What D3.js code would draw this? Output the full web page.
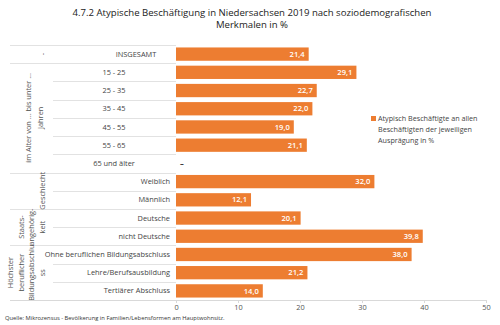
<!DOCTYPE html>
<html>
<head>
<meta charset="utf-8">
<script src="https://cdn.jsdelivr.net/npm/d3@7"></script>
<style>
body { margin: 0; background: #fff; }
text { font-family: "Open Sans", "Noto Sans", sans-serif; }
</style>
</head>
<body>
<div id="chart"></div>
<script>
// Kategorien und Werte (Anteil atypisch Beschäftigter in %)
var categories = ["INSGESAMT", "15 - 25", "25 - 35", "35 - 45", "45 - 55", "55 - 65", "65 und älter",
    "Weiblich", "Männlich", "Deutsche", "nicht Deutsche",
    "Ohne beruflichen Bildungsabschluss", "Lehre/Berufsausbildung", "Tertiärer Abschluss"];
var values = [21.4, 29.1, 22.7, 22.0, 19.0, 21.1, null, 32.0, 12.1, 20.1, 39.8, 38.0, 21.2, 14.0];
var groupNames = [["-"], ["im Alter von ...   bis unter ...", "Jahren"], ["Geschlecht"],
    ["Staats-", "angehörig-", "keit"], ["Höchster", "beruflicher", "Bildungsabschlu", "ss"]];
var groupSizes = [1, 6, 2, 2, 3];
var xTicks = [0, 10, 20, 30, 40, 50];
var legendLines = ["Atypisch Beschäftigte an allen", "Beschäftigten der jeweiligen", "Ausprägung in %"];

var width = 500, height = 325;
var m = { top: 45, left: 176, bottom: 25, right: 14 };
var barColor = "#ed7d31";

var svg = d3.select("#chart").append("svg")
    .attr("width", width)
    .attr("height", height);

svg.append("text")
    .attr("x", 252).attr("y", 16)
    .attr("text-anchor", "middle")
    .attr("font-size", 9.6)
    .attr("fill", "#222")
    .text("4.7.2 Atypische Beschäftigung in Niedersachsen 2019 nach soziodemografischen");
svg.append("text")
    .attr("x", 252).attr("y", 27.5)
    .attr("text-anchor", "middle")
    .attr("font-size", 9.6)
    .attr("fill", "#222")
    .text("Merkmalen in %");

var rows = categories.map(function (c, i) { return { cat: c, value: values[i], i: i }; });

var x = d3.scaleLinear().domain([0, 50]).range([m.left, width - m.right]);
var y = d3.scaleBand().domain(d3.range(categories.length))
    .range([m.top, height - m.bottom])
    .paddingInner(0.27).paddingOuter(0.135);

var rowH = (height - m.bottom - m.top) / categories.length;

// Trennlinien
var starts = [];
var s = 0;
groupSizes.forEach(function (n) { starts.push(s); s += n; });
d3.range(categories.length + 1).forEach(function (i) {
    var yy = Math.round(m.top + i * rowH) + 0.5;
    var isGroup = starts.indexOf(i) >= 0 || i == categories.length;
    svg.append("line")
        .attr("x1", isGroup ? 10 : 53).attr("x2", m.left)
        .attr("y1", yy).attr("y2", yy)
        .attr("stroke", "#e2e2e2").attr("stroke-width", 1);
});

// Gruppenbeschriftung (gedreht)
groupNames.forEach(function (lines, g) {
    var cy = m.top + (starts[g] + groupSizes[g] / 2) * rowH;
    var n = lines.length;
    var xs = d3.range(n).map(function (k) { return 45 - (n - 1 - k) * 10.5; });
    if (g == 1) xs = [31, 43];
    lines.forEach(function (t, k) {
        svg.append("text")
            .attr("transform", "translate(" + (xs[k] - 3) + "," + cy + ") rotate(-90)")
            .attr("text-anchor", "middle")
            .attr("dy", "0.35em")
            .attr("font-size", 7.4)
            .attr("fill", "#555")
            .text(t);
    });
});

// Kategorien
svg.selectAll(".cat")
    .data(rows)
    .enter().append("text")
    .attr("class", "cat")
    .attr("x", function (d) { return d.i == 0 ? 136 : (d.i < 7 ? 114 : 170); })
    .attr("text-anchor", function (d) { return d.i < 7 ? "middle" : "end"; })
    .attr("y", function (d) { return y(d.i) + y.bandwidth() / 2; })
    .attr("dy", "0.35em")
    .attr("font-size", 7.4)
    .attr("fill", "#444")
    .text(function (d) { return d.cat; });

// Balken
svg.selectAll(".bar")
    .data(rows.filter(function (d) { return d.value != null; }))
    .enter().append("rect")
    .attr("class", "bar")
    .attr("x", x(0))
    .attr("y", function (d) { return y(d.i); })
    .attr("width", function (d) { return x(d.value) - x(0); })
    .attr("height", y.bandwidth())
    .attr("fill", barColor);

svg.selectAll(".val")
    .data(rows)
    .enter().append("text")
    .attr("class", "val")
    .attr("x", function (d) { return d.value == null ? x(0) + 4 : x(d.value) - 4; })
    .attr("y", function (d) { return y(d.i) + y.bandwidth() / 2; })
    .attr("dy", "0.35em")
    .attr("text-anchor", function (d) { return d.value == null ? "start" : "end"; })
    .attr("font-size", 7.6)
    .attr("font-weight", function (d) { return d.value == null ? "bold" : "600"; })
    .attr("fill", function (d) { return d.value == null ? "#222" : "#fff"; })
    .text(function (d) { return d.value == null ? "–" : d3.format(".1f")(d.value).replace(".", ","); });

// x-Achse
var xAxis = svg.append("g")
    .attr("transform", "translate(0," + (height - m.bottom) + ")")
    .call(d3.axisBottom(x).tickValues(xTicks).tickSize(3).tickPadding(2));
xAxis.select(".domain").attr("stroke", "#d9d9d9").attr("d", "M10,0.5H" + x(50));
xAxis.selectAll(".tick line").attr("stroke", "#d9d9d9");
xAxis.selectAll(".tick text")
    .attr("font-size", 7.4)
    .attr("fill", "#555")
    .style("font-family", "'Open Sans', sans-serif");

// Legende
svg.append("rect")
    .attr("x", 371).attr("y", 116)
    .attr("width", 5).attr("height", 5)
    .attr("fill", barColor);
legendLines.forEach(function (t, k) {
    svg.append("text")
        .attr("x", 378).attr("y", 121 + k * 11)
        .attr("font-size", 7.2)
        .attr("fill", "#444")
        .text(t);
});

// Quelle
svg.append("text")
    .attr("x", 5).attr("y", 320)
    .attr("font-size", 5.8)
    .attr("fill", "#333")
    .text("Quelle: Mikrozensus - Bevölkerung in Familien/Lebensformen am Hauptwohnsitz.");
</script>
</body>
</html>
